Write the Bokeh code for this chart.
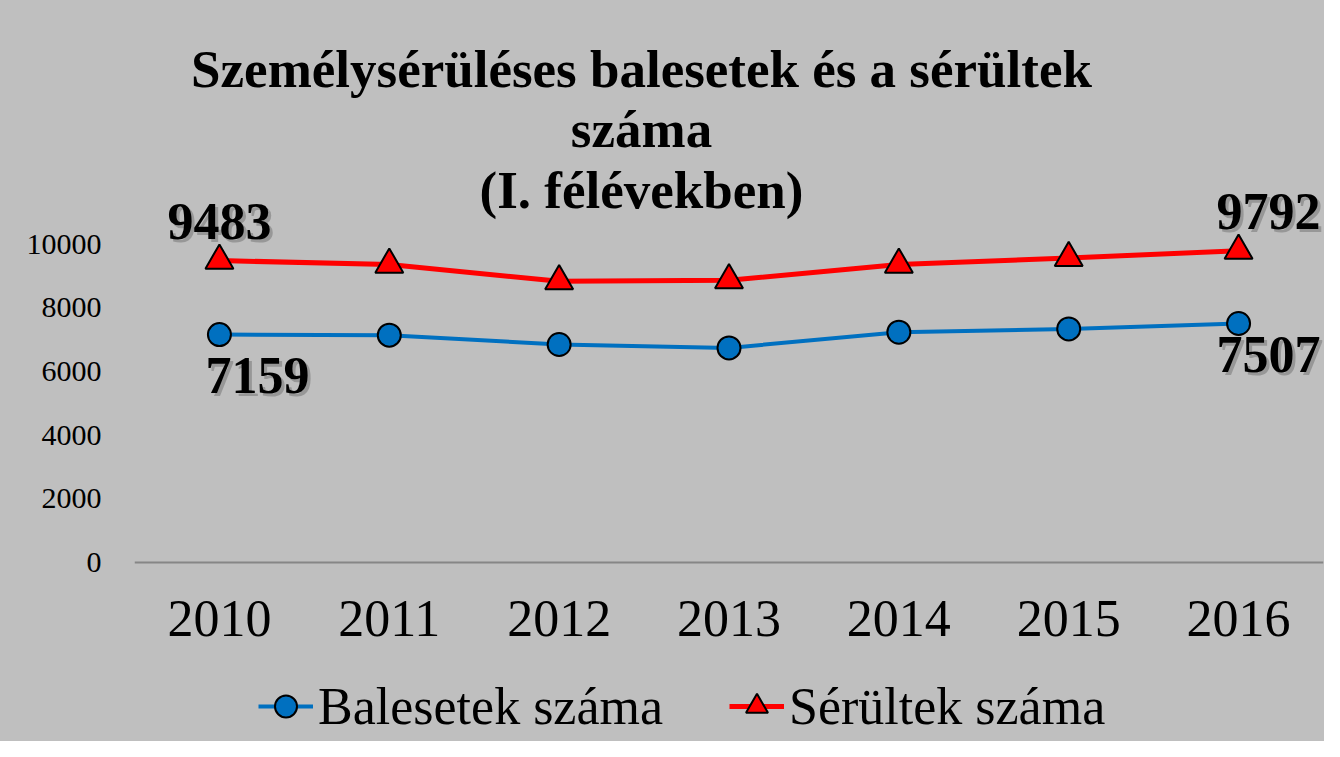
from bokeh.plotting import figure
from bokeh.models import (FactorRange, Range1d, FixedTicker, Label, Legend,
                          LegendItem, ColumnDataSource)
from bokeh.embed import file_html
from bokeh.resources import INLINE

# ---- data ----
years = ["2010", "2011", "2012", "2013", "2014", "2015", "2016"]
balesetek = [7159, 7139, 6847, 6740, 7233, 7336, 7507]
serultek = [9483, 9358, 8833, 8865, 9358, 9565, 9792]
y_ticks = [0, 2000, 4000, 6000, 8000, 10000]
series_names = ["Balesetek száma", "Sérültek száma"]
title_lines = ["Személysérüléses balesetek és a sérültek", "száma", "(I. félévekben)"]

# data labels: first and last point of each series
lab_x = [years[0], years[-1], years[0], years[-1]]
lab_y = [serultek[0], serultek[-1], balesetek[0], balesetek[-1]]
lab_text = [str(v) for v in lab_y]
# styling offsets for the labels (pixels)
lab_dx = [0, 30, 38, 30]
lab_dy = [-39, -39, 41, 31]

BG = "#BFBFBF"
BLUE = "#0070C0"
RED = "#FF0000"
SERIF = "Liberation Serif"

# frame covers the full height; 0 sits at 562 px from the top (0.03184 px per unit)
p = figure(width=1324, height=741,
           x_range=FactorRange(*years, range_padding=0),
           y_range=Range1d(-5622, 17651),
           output_backend="svg", toolbar_location=None,
           min_border_left=134, min_border_right=1,
           min_border_top=0, min_border_bottom=0,
           background_fill_color=BG, border_fill_color=BG,
           outline_line_color=None,
           styles={"background-color": BG})

p.xgrid.visible = False
p.ygrid.visible = False

# axes
p.yaxis.ticker = FixedTicker(ticks=y_ticks)
p.yaxis.axis_line_color = None
p.yaxis.major_tick_line_color = None
p.yaxis.minor_tick_line_color = None
p.yaxis.major_tick_out = 0
p.yaxis.major_label_standoff = 33
p.yaxis.major_label_text_font = SERIF
p.yaxis.major_label_text_font_size = "30px"
p.yaxis.major_label_text_color = "#000000"

p.xaxis.fixed_location = 0
p.xaxis.axis_line_color = "#868686"
p.xaxis.axis_line_width = 2
p.xaxis.major_tick_line_color = None
p.xaxis.minor_tick_line_color = None
p.xaxis.major_tick_out = 0
p.xaxis.major_label_standoff = 39
p.xaxis.major_label_text_font = SERIF
p.xaxis.major_label_text_font_size = "52px"
p.xaxis.major_label_text_color = "#000000"

# series
l1 = p.line(years, balesetek, line_color=BLUE, line_width=4)
s1 = p.scatter(years, balesetek, marker="circle", size=23, fill_color=BLUE,
               line_color="#000000", line_width=2)
l2 = p.line(years, serultek, line_color=RED, line_width=5)
s2 = p.scatter(years, serultek, marker="triangle", size=28, fill_color=RED,
               line_color="#000000", line_width=2)

# data labels with a soft shadow
src = ColumnDataSource(dict(x=lab_x, y=lab_y, text=lab_text,
                            dx=lab_dx, dy=lab_dy,
                            sdx=[d + 3 for d in lab_dx], sdy=[d + 3 for d in lab_dy]))
p.text(x="x", y="y", text="text", x_offset="sdx", y_offset="sdy", source=src,
       text_font=SERIF, text_font_style="bold", text_font_size="52px",
       text_align="center", text_baseline="alphabetic",
       text_color="#6f6f6f", text_alpha=0.5)
p.text(x="x", y="y", text="text", x_offset="dx", y_offset="dy", source=src,
       text_font=SERIF, text_font_style="bold", text_font_size="52px",
       text_align="center", text_baseline="alphabetic", text_color="#000000")

# title (three lines)
for txt, yy in zip(title_lines, [673, 613, 552]):
    p.add_layout(Label(x=507, y=yy, x_units="screen", y_units="screen", text=txt,
                       text_font=SERIF, text_font_style="bold",
                       text_font_size="53px", text_align="center",
                       text_baseline="alphabetic", text_color="#000000"))

legend = Legend(items=[LegendItem(label=series_names[0], renderers=[l1, s1]),
                       LegendItem(label=series_names[1], renderers=[l2, s2])],
                location=(124, 5), orientation="horizontal",
                label_text_font=SERIF, label_text_font_size="52px",
                label_text_color="#000000",
                glyph_width=55, glyph_height=60, label_standoff=5,
                label_width=409, spacing=2,
                padding=0, margin=0, border_line_color=None,
                background_fill_alpha=0)
p.add_layout(legend)

open("out.html", "w").write(file_html(p, INLINE))
